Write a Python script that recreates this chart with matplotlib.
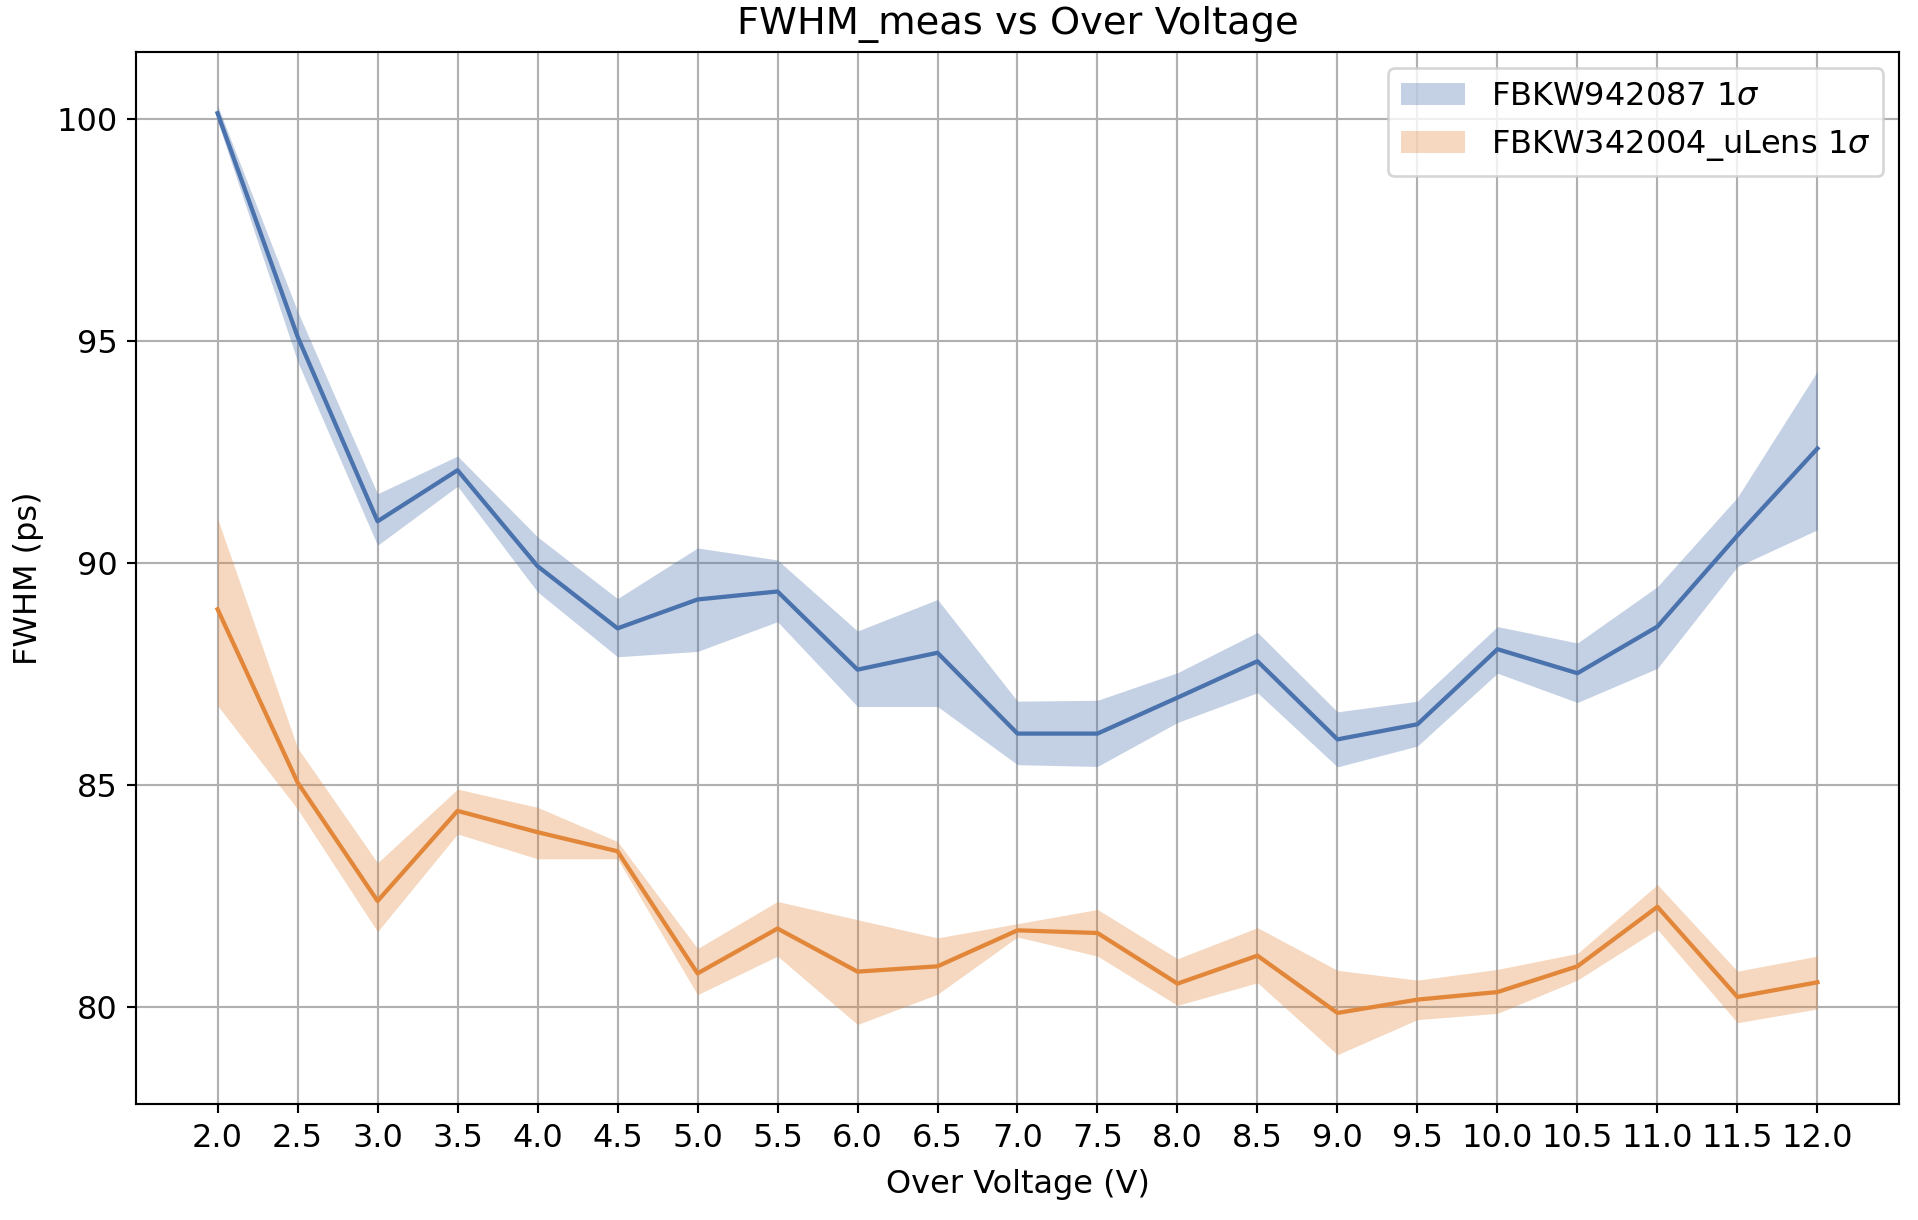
import matplotlib
matplotlib.use("Agg")
import matplotlib.pyplot as plt
import numpy as np

over_voltage = [2.0, 2.5, 3.0, 3.5, 4.0, 4.5, 5.0, 5.5, 6.0, 6.5, 7.0, 7.5,
                8.0, 8.5, 9.0, 9.5, 10.0, 10.5, 11.0, 11.5, 12.0]

blue_label = r"FBKW942087 1$\sigma$"
blue_mean = [100.13, 95.1, 90.94, 92.09, 89.93, 88.53, 89.18, 89.36, 87.6, 87.98, 86.16, 86.16,
             86.97, 87.79, 86.03, 86.37, 88.06, 87.52, 88.57, 90.62, 92.58]
blue_upper = [100.3, 95.67, 91.56, 92.41, 90.59, 89.2, 90.34, 90.07, 88.47, 89.18, 86.89, 86.91,
              87.53, 88.44, 86.65, 86.89, 88.57, 88.2, 89.47, 91.48, 94.32]
blue_lower = [99.95, 94.54, 90.4, 91.73, 89.35, 87.89, 88.01, 88.68, 86.77, 86.77, 85.46, 85.42,
              86.41, 87.08, 85.41, 85.88, 87.52, 86.86, 87.63, 89.92, 90.75]

orange_label = r"FBKW342004_uLens 1$\sigma$"
orange_mean = [88.96, 85.06, 82.39, 84.42, 83.94, 83.51, 80.76, 81.77, 80.8, 80.92, 81.73, 81.67,
               80.53, 81.16, 79.87, 80.17, 80.34, 80.92, 82.26, 80.23, 80.56]
orange_upper = [91.0, 85.84, 83.25, 84.91, 84.5, 83.73, 81.32, 82.38, 81.97, 81.56, 81.88, 82.2,
                81.09, 81.79, 80.83, 80.61, 80.85, 81.21, 82.76, 80.81, 81.15]
orange_lower = [86.79, 84.46, 81.7, 83.9, 83.34, 83.34, 80.28, 81.15, 79.61, 80.29, 81.58, 81.15,
                80.04, 80.55, 78.93, 79.72, 79.86, 80.61, 81.75, 79.65, 79.96]

xtick_labels = [f"{v:.1f}" for v in over_voltage]

BLUE = "#4A72AD"
ORANGE = "#E2873A"

plt.rcParams["font.size"] = 12

fig = plt.figure(figsize=(1918 / 192, 1220 / 192), dpi=192)
ax = fig.add_axes([0.0709, 0.0951, 0.9192, 0.8620])

ax.fill_between(over_voltage, blue_lower, blue_upper, color=BLUE, alpha=0.32,
                linewidth=0, label=blue_label)
ax.plot(over_voltage, blue_mean, color=BLUE, linewidth=1.6)
ax.fill_between(over_voltage, orange_lower, orange_upper, color=ORANGE, alpha=0.32,
                linewidth=0, label=orange_label)
ax.plot(over_voltage, orange_mean, color=ORANGE, linewidth=1.6)

ax.set_xticks(over_voltage)
ax.set_xticklabels(xtick_labels)
ax.set_yticks([80, 85, 90, 95, 100])
ax.set_xlim(1.49, 12.51)
ax.set_ylim(77.82, 101.5)
ax.grid(True, color="#b0b0b0", linewidth=0.8)
ax.set_axisbelow(True)

ax.set_title("FWHM_meas vs Over Voltage", pad=6.7)
ax.set_xlabel("Over Voltage (V)", labelpad=5.7)
ax.set_ylabel("FWHM (ps)", labelpad=4.5)
ax.legend(loc="upper right")

fig.savefig("out.png", dpi=192)
